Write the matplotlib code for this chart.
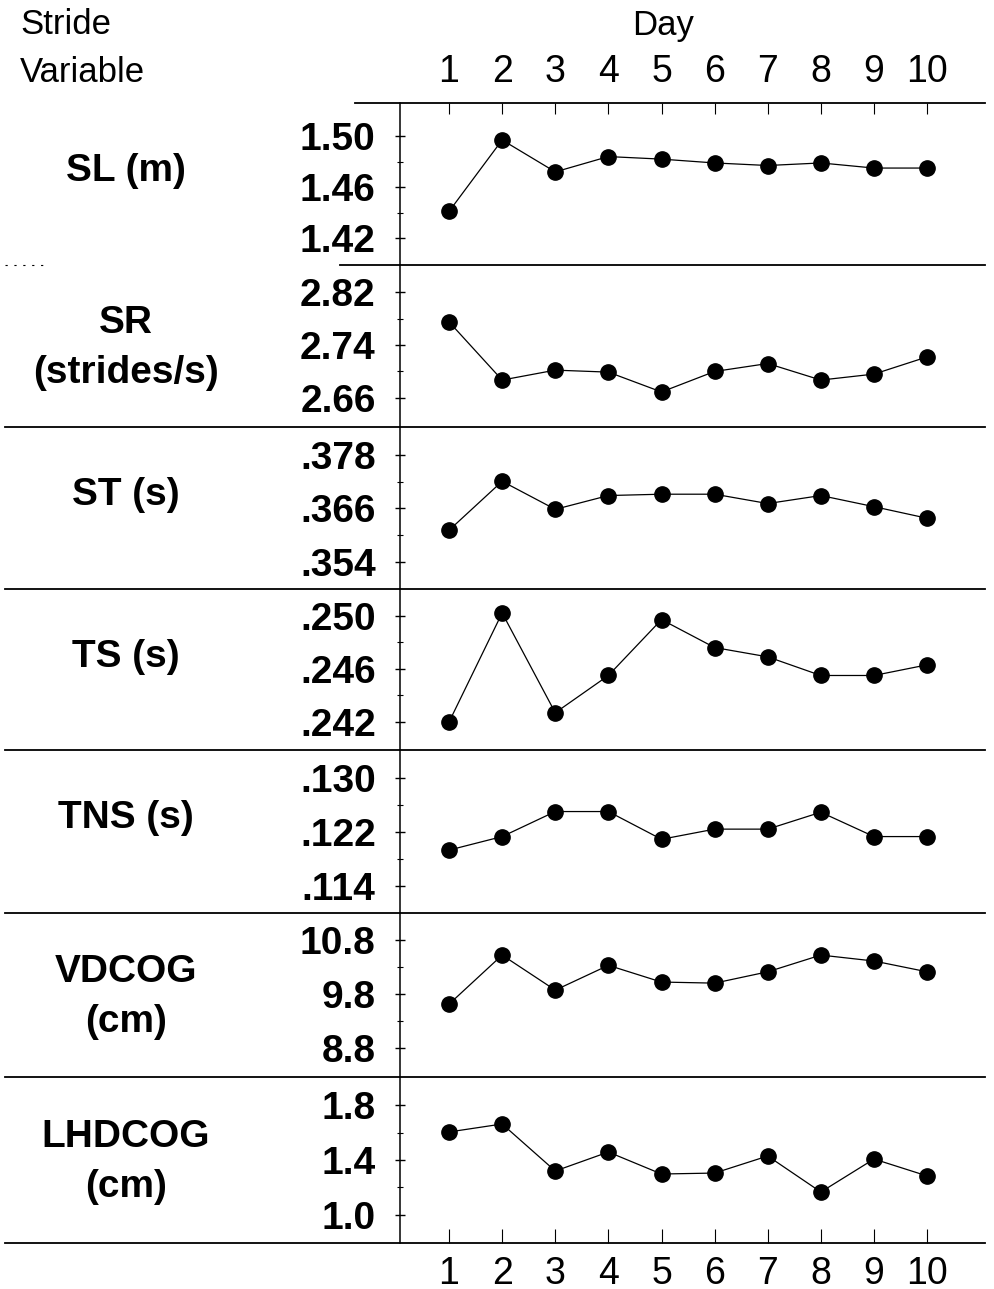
import matplotlib
matplotlib.use('Agg')
import matplotlib.pyplot as plt
from matplotlib.lines import Line2D

plt.rcParams['font.family'] = ['Liberation Sans', 'DejaVu Sans']

# Datos (promedios por dia)
dias = [1, 2, 3, 4, 5, 6, 7, 8, 9, 10]
sl = [1.441, 1.497, 1.472, 1.484, 1.482, 1.479, 1.477, 1.479, 1.475, 1.475]
sr = [2.775, 2.687, 2.702, 2.699, 2.669, 2.700, 2.712, 2.687, 2.696, 2.722]
st = [0.3611, 0.3721, 0.3658, 0.3689, 0.3692, 0.3692, 0.3671, 0.3689, 0.3664, 0.3638]
ts = [0.2420, 0.2502, 0.2427, 0.2455, 0.2497, 0.2476, 0.2469, 0.2455, 0.2455, 0.2463]
tns = [0.1193, 0.1213, 0.1250, 0.1250, 0.1209, 0.1224, 0.1224, 0.1249, 0.1213, 0.1213]
vdcog = [9.61, 10.52, 9.87, 10.33, 10.02, 10.00, 10.21, 10.52, 10.41, 10.21]
lhdcog = [1.604, 1.662, 1.320, 1.458, 1.298, 1.305, 1.429, 1.167, 1.407, 1.284]

etiquetas = ['SL (m)', 'SR\n(strides/s)', 'ST (s)', 'TS (s)', 'TNS (s)', 'VDCOG\n(cm)', 'LHDCOG\n(cm)']
series = [sl, sr, st, ts, tns, vdcog, lhdcog]
ticks_y = [[1.42, 1.46, 1.50], [2.66, 2.74, 2.82], [0.354, 0.366, 0.378],
           [0.242, 0.246, 0.250], [0.114, 0.122, 0.130], [8.8, 9.8, 10.8], [1.0, 1.4, 1.8]]
ticks_txt = [['1.42', '1.46', '1.50'], ['2.66', '2.74', '2.82'], ['.354', '.366', '.378'],
             ['.242', '.246', '.250'], ['.114', '.122', '.130'], ['8.8', '9.8', '10.8'],
             ['1.0', '1.4', '1.8']]
limites_y = [(1.399, 1.526), (2.616, 2.861), (0.3479, 0.3843), (0.2399, 0.2520),
             (0.1100, 0.1341), (8.26, 11.3), (0.796, 2.004)]

W, H = 994, 1289
fig = plt.figure(figsize=(W / 100, H / 100), dpi=100)

# limites de cada panel en pixeles
bordes = [103, 265, 427, 589, 750, 913, 1077, 1243]
x_izq, x_der = 400, 985


def fx(px):
    return px / W


def fy(py):
    return 1 - py / H


for i in range(7):
    y0, y1 = bordes[i], bordes[i + 1]
    ax = fig.add_axes([fx(x_izq), fy(y1), fx(x_der - x_izq), (y1 - y0) / H])
    ax.plot(dias, series[i], color='black', lw=0.9, marker='o', ms=11,
            markerfacecolor='black', markeredgecolor='black')
    ax.set_xlim(0.077, 11.09)
    ax.set_ylim(*limites_y[i])
    ax.set_yticks(ticks_y[i])
    ax.set_yticklabels(ticks_txt[i])
    mids = [(ticks_y[i][0] + ticks_y[i][1]) / 2, (ticks_y[i][1] + ticks_y[i][2]) / 2]
    ax.set_yticks(mids, minor=True)
    ax.tick_params(axis='y', which='major', direction='inout', length=7, width=1,
                   labelsize=28, pad=14)
    ax.tick_params(axis='y', which='minor', direction='inout', length=5, width=0.8)
    for lab in ax.get_yticklabels():
        lab.set_fontweight('bold')
    for s in ['top', 'right', 'bottom']:
        ax.spines[s].set_visible(False)
    ax.spines['left'].set_linewidth(1.1)
    ax.set_xticks(dias)
    if i == 0:
        ax.tick_params(axis='x', which='both', top=True, bottom=False, direction='in',
                       length=8, labeltop=True, labelbottom=False, labelsize=27, pad=9)
    elif i == 6:
        ax.tick_params(axis='x', which='both', top=False, bottom=True, direction='in',
                       length=10, labeltop=False, labelbottom=True, labelsize=27, pad=9)
    else:
        ax.tick_params(axis='x', which='both', bottom=False, top=False,
                       labelbottom=False, labeltop=False)
    for lab in ax.get_xticklabels():
        lab.set_fontweight('medium')
    # etiqueta de la variable
    desfase = 2 if '\n' in etiquetas[i] else -13
    yc = fy((y0 + y1) / 2 + desfase)
    fig.text(fx(126), yc, etiquetas[i], ha='center', va='center', fontsize=28,
             fontweight='bold', linespacing=1.5)

# lineas separadoras
for j, yb in enumerate(bordes):
    if j == 0:
        fig.add_artist(Line2D([fx(355), fx(x_der)], [fy(yb), fy(yb)], color='black', lw=1.3))
    elif j == 1:
        fig.add_artist(Line2D([fx(340), fx(x_der)], [fy(yb), fy(yb)], color='black', lw=1.3))
        fig.add_artist(Line2D([fx(5), fx(45)], [fy(yb), fy(yb)], color='black', lw=0.8,
                              ls=(0, (2, 6))))
    else:
        fig.add_artist(Line2D([fx(5), fx(x_der)], [fy(yb), fy(yb)], color='black', lw=1.3))

fig.text(fx(20), fy(25), 'Stride', ha='left', va='center', fontsize=25)
fig.text(fx(20), fy(72), 'Variable', ha='left', va='center', fontsize=25)
fig.text(fx(663), fy(25), 'Day', ha='center', va='center', fontsize=25)

fig.savefig('out.png', dpi=100, facecolor='white')
